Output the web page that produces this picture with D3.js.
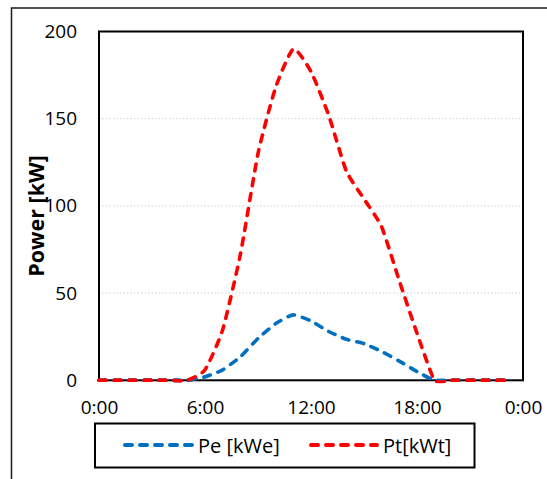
<!DOCTYPE html>
<html>
<head>
<meta charset="utf-8">
<script src="https://cdn.jsdelivr.net/npm/d3@7"></script>
<style>
  html, body { margin: 0; padding: 0; background: #fff; }
  svg { display: block; }
  text { font-family: "Open Sans", "Liberation Sans", sans-serif; fill: #000; }
</style>
</head>
<body>
<svg id="chart" width="547" height="479"></svg>
<script>
// Hourly power over one day
const hours = d3.range(0, 24);
const peValues = [0, 0, 0, 0, 0, 0, 2, 6, 13.5, 24, 32.5, 37.5, 34, 28, 23.5, 21, 16.5, 11, 5, 0, 0, 0, 0, 0];
const ptValues = [0, 0, 0, 0, 0, 0, 6, 29, 72, 130, 168, 190, 177, 152, 120, 104, 88, 57, 27, 0, 0, 0, 0, 0];

const seriesNames = ["Pe [kWe]", "Pt[kWt]"];
const seriesColors = ["#0070C0", "#FF0000"];

const xTickValues = [0, 6, 12, 18, 24];
const xTickLabels = ["0:00", "6:00", "12:00", "18:00", "0:00"];
const yTickValues = [0, 50, 100, 150, 200];
const yTitle = "Power [kW]";

const svg = d3.select("#chart");

const plot = { left: 99, top: 31.5, right: 523, bottom: 380.3 };

const x = d3.scaleLinear().domain([0, 24]).range([plot.left, plot.right]);
const y = d3.scaleLinear().domain([0, 200]).range([plot.bottom, plot.top]);

// keep the smoothed series from dipping under the zero line
svg.append("clipPath").attr("id", "plotClip")
  .append("rect")
  .attr("x", plot.left - 4).attr("y", plot.top - 4)
  .attr("width", plot.right - plot.left + 8)
  .attr("height", plot.bottom - plot.top + 6);

// outer chart frame (extends past the right and bottom edges)
svg.append("rect")
  .attr("x", 11.5).attr("y", 8)
  .attr("width", 600).attr("height", 520)
  .attr("fill", "#fff")
  .attr("stroke", "#1a1a1a")
  .attr("stroke-width", 1.5);

// horizontal gridlines
svg.append("g")
  .selectAll("line")
  .data(yTickValues.filter(v => v > 0 && v < 200))
  .join("line")
  .attr("x1", plot.left).attr("x2", plot.right)
  .attr("y1", d => y(d)).attr("y2", d => y(d))
  .attr("stroke", "#cfcfcf")
  .attr("stroke-width", 1)
  .attr("stroke-dasharray", "1.5 2");

// y axis labels
const yAxis = svg.append("g")
  .attr("transform", `translate(${plot.left},0)`)
  .call(d3.axisLeft(y).tickValues(yTickValues).tickSize(0).tickPadding(22));
yAxis.select(".domain").remove();
yAxis.selectAll("text")
  .style("font-size", "19px")
  .style("font-family", "'Open Sans', sans-serif")
  .attr("fill", "#000");

// x axis labels
const xAxis = svg.append("g")
  .attr("transform", `translate(0,${plot.bottom})`)
  .call(d3.axisBottom(x).tickValues(xTickValues)
    .tickFormat((d, i) => xTickLabels[i]).tickSize(0).tickPadding(20));
xAxis.select(".domain").remove();
xAxis.selectAll("text")
  .style("font-size", "19px")
  .style("font-family", "'Open Sans', sans-serif")
  .attr("fill", "#000");

// series lines
const line = values => d3.line()
  .x((d, i) => x(hours[i]))
  .y(d => y(d))
  .curve(d3.curveCardinal.tension(0.45))(values);

const dash = "7 8";
const drawSeries = clipId => {
  [peValues, ptValues].forEach((vals, k) => {
    svg.append("path")
      .attr("d", line(vals))
      .attr("fill", "none")
      .attr("stroke", seriesColors[k])
      .attr("stroke-width", 3.6)
      .attr("stroke-linecap", "round")
      .attr("stroke-dasharray", dash)
      .attr("clip-path", `url(#${clipId})`);
  });
};
drawSeries("plotClip");

// plot area border
svg.append("rect")
  .attr("x", plot.left).attr("y", plot.top)
  .attr("width", plot.right - plot.left)
  .attr("height", plot.bottom - plot.top)
  .attr("fill", "none")
  .attr("stroke", "#000")
  .attr("stroke-width", 2);

// zero-valued stretches sit on the bottom border, so draw them again on top
svg.append("clipPath").attr("id", "bottomBand")
  .append("rect")
  .attr("x", plot.left - 4).attr("y", plot.bottom - 3)
  .attr("width", plot.right - plot.left + 8).attr("height", 6);
drawSeries("bottomBand");

// y axis title
svg.append("text")
  .attr("transform", `translate(44,${(plot.top + plot.bottom) / 2 + 10}) rotate(-90)`)
  .attr("text-anchor", "middle")
  .style("font-size", "21.5px")
  .style("font-weight", "bold")
  .text(yTitle);

// legend
const legend = svg.append("g");
legend.append("rect")
  .attr("x", 95).attr("y", 423.5)
  .attr("width", 379.5).attr("height", 44)
  .attr("fill", "#fff")
  .attr("stroke", "#000")
  .attr("stroke-width", 2);

const legendItems = [
  { x1: 125, x2: 192, tx: 198 },
  { x1: 311, x2: 377, tx: 383 }
];
legendItems.forEach((it, k) => {
  legend.append("line")
    .attr("x1", it.x1).attr("x2", it.x2)
    .attr("y1", 445).attr("y2", 445)
    .attr("stroke", seriesColors[k])
    .attr("stroke-width", 4)
    .attr("stroke-linecap", "round")
    .attr("stroke-dasharray", dash);
  legend.append("text")
    .attr("x", it.tx).attr("y", 453)
    .style("font-size", "20px")
    .text(seriesNames[k]);
});
</script>
</body>
</html>
